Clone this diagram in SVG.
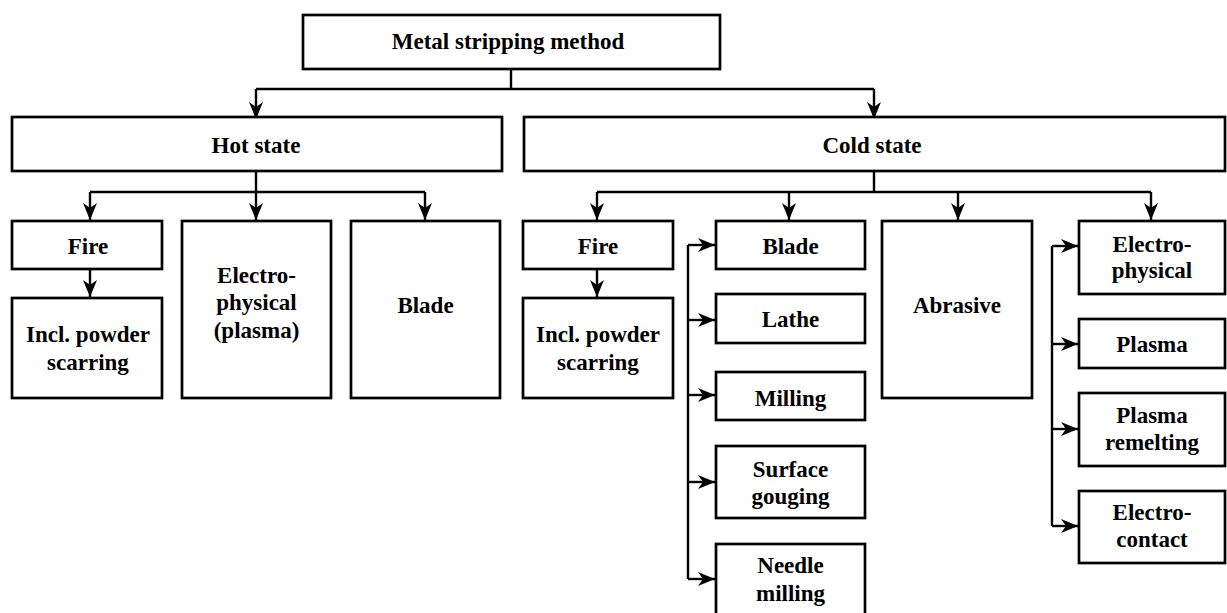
<svg xmlns="http://www.w3.org/2000/svg" width="1227" height="613" viewBox="0 0 1227 613">
<style>
.box{fill:#fff;stroke:#000;stroke-width:2.7}
.lbl{font-family:"Liberation Serif","Times New Roman",serif;font-weight:bold;font-size:23px;fill:#000;text-anchor:middle}
.ln{fill:none;stroke:#000;stroke-width:2.4}
</style>
<defs>
<marker id="ah" markerUnits="userSpaceOnUse" markerWidth="18" markerHeight="15" refX="17" refY="7" orient="auto">
<path d="M0,0 L17,7 L0,14 L5,7 Z" fill="#000"/>
</marker>
</defs>
<rect width="1227" height="613" fill="#fff"/>
<g id="connectors">
<path class="ln" d="M511,69 V89 M256,89 H874"/>
<path class="ln" d="M256,89 V119" marker-end="url(#ah)"/>
<path class="ln" d="M874,89 V119" marker-end="url(#ah)"/>
<path class="ln" d="M256,171 V192 M90,192 H425"/>
<path class="ln" d="M90,192 V220" marker-end="url(#ah)"/>
<path class="ln" d="M256,192 V220" marker-end="url(#ah)"/>
<path class="ln" d="M425,192 V220" marker-end="url(#ah)"/>
<path class="ln" d="M90,269 V297" marker-end="url(#ah)"/>
<path class="ln" d="M874,171 V192 M597,192 H1151"/>
<path class="ln" d="M597,192 V220" marker-end="url(#ah)"/>
<path class="ln" d="M789,192 V220" marker-end="url(#ah)"/>
<path class="ln" d="M958,192 V220" marker-end="url(#ah)"/>
<path class="ln" d="M1151,192 V220" marker-end="url(#ah)"/>
<path class="ln" d="M597,269 V297" marker-end="url(#ah)"/>
<path class="ln" d="M688,245 V579"/>
<path class="ln" d="M688,245 H715" marker-end="url(#ah)"/>
<path class="ln" d="M688,320 H715" marker-end="url(#ah)"/>
<path class="ln" d="M688,395 H715" marker-end="url(#ah)"/>
<path class="ln" d="M688,482 H715" marker-end="url(#ah)"/>
<path class="ln" d="M688,579 H715" marker-end="url(#ah)"/>
<path class="ln" d="M1052,246 V526"/>
<path class="ln" d="M1052,246 H1078" marker-end="url(#ah)"/>
<path class="ln" d="M1052,344 H1078" marker-end="url(#ah)"/>
<path class="ln" d="M1052,429 H1078" marker-end="url(#ah)"/>
<path class="ln" d="M1052,526 H1078" marker-end="url(#ah)"/>
</g>
<g id="n-top"><rect class="box" x="303" y="15" width="417" height="54"/><text class="lbl" x="508" y="49">Metal stripping method</text></g>
<g id="n-hot"><rect class="box" x="12" y="117" width="490" height="54"/><text class="lbl" x="256" y="153">Hot state</text></g>
<g id="n-cold"><rect class="box" x="524" y="117" width="701" height="54"/><text class="lbl" x="872" y="153">Cold state</text></g>
<g id="n-hot-fire"><rect class="box" x="12" y="221" width="150" height="48"/><text class="lbl" x="88" y="254">Fire</text></g>
<g id="n-hot-incl"><rect class="box" x="12" y="298" width="150" height="100"/><text class="lbl" x="88" y="342">Incl. powder</text><text class="lbl" x="88" y="370">scarring</text></g>
<g id="n-hot-ep"><rect class="box" x="182" y="221" width="149" height="177"/><text class="lbl" x="256.5" y="283">Electro-</text><text class="lbl" x="256.5" y="310">physical</text><text class="lbl" x="256.5" y="338">(plasma)</text></g>
<g id="n-hot-blade"><rect class="box" x="351" y="221" width="149" height="177"/><text class="lbl" x="425.5" y="313">Blade</text></g>
<g id="n-cold-fire"><rect class="box" x="523" y="221" width="150" height="48"/><text class="lbl" x="598" y="254">Fire</text></g>
<g id="n-cold-incl"><rect class="box" x="523" y="298" width="150" height="100"/><text class="lbl" x="598" y="342">Incl. powder</text><text class="lbl" x="598" y="370">scarring</text></g>
<g id="n-cold-blade"><rect class="box" x="716" y="221" width="149" height="48"/><text class="lbl" x="790.5" y="254">Blade</text></g>
<g id="n-lathe"><rect class="box" x="716" y="294" width="149" height="49"/><text class="lbl" x="790.5" y="327">Lathe</text></g>
<g id="n-milling"><rect class="box" x="716" y="372" width="149" height="48"/><text class="lbl" x="790.5" y="406">Milling</text></g>
<g id="n-surface"><rect class="box" x="716" y="446" width="149" height="72"/><text class="lbl" x="790.5" y="477">Surface</text><text class="lbl" x="790.5" y="504">gouging</text></g>
<g id="n-needle"><rect class="box" x="716" y="544" width="149" height="72"/><text class="lbl" x="790.5" y="573">Needle</text><text class="lbl" x="790.5" y="601">milling</text></g>
<g id="n-abrasive"><rect class="box" x="882" y="221" width="150" height="177"/><text class="lbl" x="957" y="313">Abrasive</text></g>
<g id="n-ep"><rect class="box" x="1079" y="221" width="146" height="73"/><text class="lbl" x="1152" y="252">Electro-</text><text class="lbl" x="1152" y="278">physical</text></g>
<g id="n-plasma"><rect class="box" x="1079" y="319" width="146" height="49"/><text class="lbl" x="1152" y="352">Plasma</text></g>
<g id="n-remelt"><rect class="box" x="1079" y="393" width="146" height="73"/><text class="lbl" x="1152" y="423">Plasma</text><text class="lbl" x="1152" y="450">remelting</text></g>
<g id="n-contact"><rect class="box" x="1079" y="491" width="146" height="72"/><text class="lbl" x="1152" y="520">Electro-</text><text class="lbl" x="1152" y="547">contact</text></g>
</svg>
